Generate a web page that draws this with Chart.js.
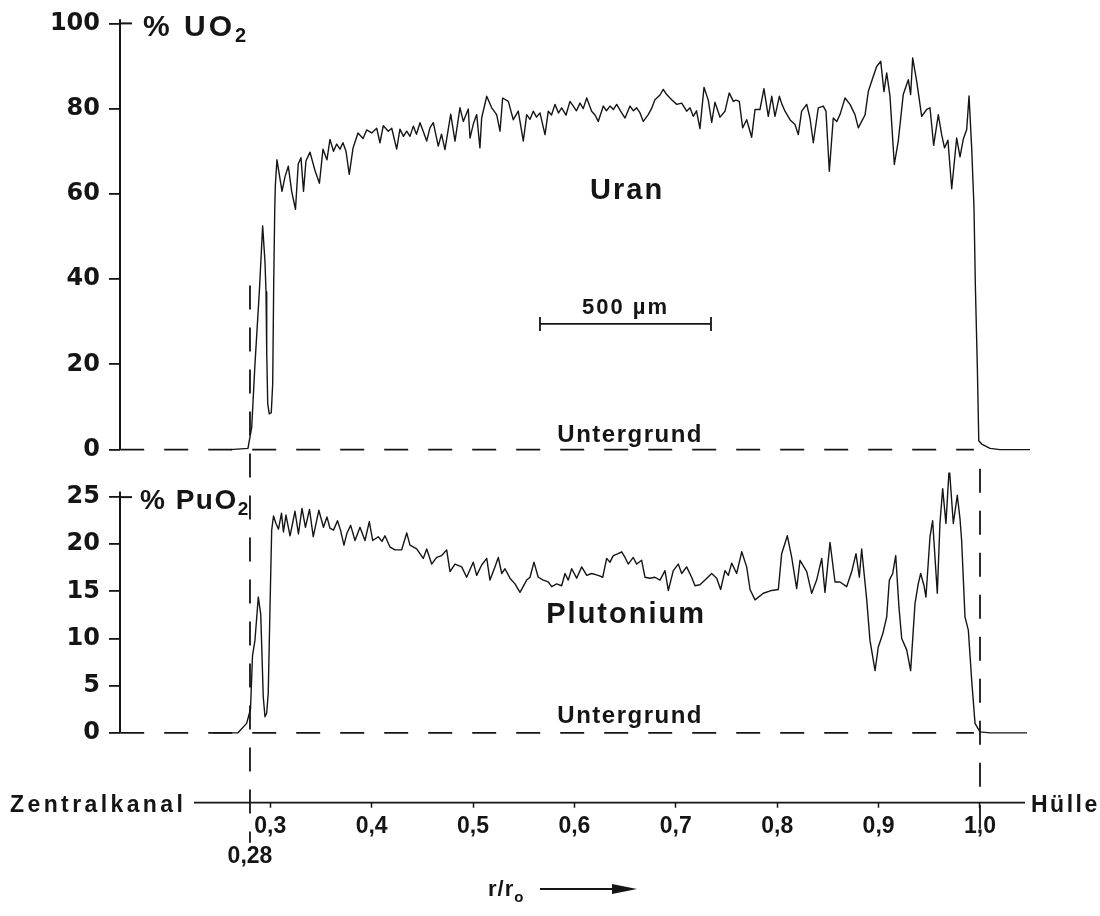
<!DOCTYPE html>
<html>
<head>
<meta charset="utf-8">
<script src="https://cdn.jsdelivr.net/npm/chart.js@4.4.0/dist/chart.umd.min.js"></script>
<style>
  html, body { margin: 0; padding: 0; background: #fff; }
  #wrap { width: 1100px; height: 916px; }
</style>
</head>
<body>
<div id="wrap"><canvas id="profile" width="1100" height="916"></canvas></div>
<script>
// microprobe trace across the pellet (r/r0 -> % oxide)
const uranR = [0.2603, 0.2780, 0.2817, 0.2849, 0.2892, 0.2925, 0.2948, 0.2958, 0.2965, 0.2975,
  0.2990, 0.3010, 0.3024, 0.3034, 0.3044, 0.3050, 0.3066, 0.3116, 0.3145, 0.3178,
  0.3211, 0.3249, 0.3276, 0.3303, 0.3328, 0.3352, 0.3392, 0.3441, 0.3485, 0.3520,
  0.3559, 0.3589, 0.3624, 0.3655, 0.3688, 0.3717, 0.3747, 0.3779, 0.3816, 0.3865,
  0.3915, 0.3951, 0.4000, 0.4050, 0.4082, 0.4115, 0.4164, 0.4198, 0.4247, 0.4279,
  0.4314, 0.4346, 0.4378, 0.4411, 0.4442, 0.4477, 0.4511, 0.4543, 0.4575, 0.4608,
  0.4657, 0.4689, 0.4723, 0.4780, 0.4822, 0.4871, 0.4904, 0.4953, 0.4970, 0.5004,
  0.5036, 0.5068, 0.5085, 0.5135, 0.5184, 0.5233, 0.5266, 0.5292, 0.5348, 0.5397,
  0.5446, 0.5496, 0.5529, 0.5562, 0.5594, 0.5626, 0.5660, 0.5710, 0.5742, 0.5774,
  0.5808, 0.5843, 0.5874, 0.5917, 0.5956, 0.5989, 0.6020, 0.6055, 0.6087, 0.6121,
  0.6170, 0.6203, 0.6235, 0.6285, 0.6316, 0.6351, 0.6385, 0.6417, 0.6454, 0.6499,
  0.6548, 0.6582, 0.6614, 0.6647, 0.6679, 0.6728, 0.6760, 0.6794, 0.6844, 0.6876,
  0.6910, 0.6959, 0.7009, 0.7058, 0.7107, 0.7140, 0.7172, 0.7204, 0.7238, 0.7278,
  0.7320, 0.7354, 0.7386, 0.7436, 0.7485, 0.7527, 0.7567, 0.7593, 0.7626, 0.7659,
  0.7699, 0.7748, 0.7781, 0.7830, 0.7869, 0.7912, 0.7946, 0.7978, 0.8021, 0.8047,
  0.8077, 0.8126, 0.8175, 0.8208, 0.8241, 0.8291, 0.8323, 0.8356, 0.8405, 0.8454,
  0.8481, 0.8514, 0.8553, 0.8587, 0.8619, 0.8669, 0.8718, 0.8767, 0.8800, 0.8833,
  0.8866, 0.8899, 0.8948, 0.8981, 0.9021, 0.9053, 0.9080, 0.9112, 0.9155, 0.9194,
  0.9243, 0.9293, 0.9316, 0.9336, 0.9376, 0.9425, 0.9474, 0.9507, 0.9543, 0.9589,
  0.9622, 0.9650, 0.9684, 0.9721, 0.9770, 0.9803, 0.9835, 0.9869, 0.9892, 0.9918,
  0.9941, 0.9954, 0.9974, 0.9988, 1.0017, 1.0099, 1.0197, 1.0493];
const uranPct = [0, 0.3, 5.2, 20, 37, 52.5, 44, 37, 23, 10.8,
  8.4, 8.7, 15.4, 39, 56, 62, 68, 60.6, 64, 66.5,
  60.6, 56.4, 67, 68.5, 60.6, 67.7, 69.8, 65.5, 62.5, 70.5,
  68, 72.8, 70, 71.7, 70.5, 72, 70, 64.6, 70.7, 74.3,
  73, 75, 74.3, 75.4, 72, 76, 74.7, 75.4, 70.5, 75.2,
  73.5, 74.7, 73.5, 75.9, 74, 76.7, 74.5, 72.4, 75.5, 76.7,
  71.2, 74, 70.4, 78.7, 72.4, 80.2, 77, 79.9, 73.1, 76.5,
  78.6, 70.8, 77.8, 82.9, 80.2, 78.6, 74.7, 82.5, 81.7, 77.4,
  79.4, 72.4, 78.6, 77.5, 79.4, 78, 79, 73.9, 79.4, 78.5,
  81, 79, 80.2, 78.5, 81.7, 80.6, 79.5, 81.3, 80, 82.5,
  79.4, 78.5, 77, 80.6, 79.5, 80.6, 79.8, 81, 79.5, 77.8,
  80.6, 79.5, 80.2, 79, 77, 78.6, 80, 82.1, 83.2, 84.5,
  83.3, 82.1, 81, 81.3, 79.4, 80.2, 78.2, 79.5, 75.3, 85,
  82, 76.8, 81.5, 78, 79.4, 83.7, 81.7, 82, 81.7, 75.5,
  77.4, 73.3, 79.8, 79.8, 84.7, 78.2, 82.9, 78.2, 82.9, 81,
  79.4, 77.4, 76.3, 73.9, 79.4, 81, 77.8, 72, 80.2, 80.6,
  79.4, 65.3, 77.8, 77, 78.6, 82.5, 81, 78.6, 75.5, 77,
  78.5, 84.1, 87.6, 89.9, 91.1, 84, 88.4, 83, 66.9, 72.4,
  83.3, 86.8, 83.3, 91.9, 86.4, 78.2, 79.8, 80.2, 71.4, 78.6,
  73.9, 70.8, 72.6, 61.2, 73.1, 68.7, 72.8, 75.1, 83, 70.8,
  56.7, 38.8, 19.3, 2.1, 1.3, 0.3, 0, 0];

const plutR = [0.2435, 0.2682, 0.2767, 0.2805, 0.2825, 0.2849, 0.2882, 0.2906, 0.2931, 0.2948,
  0.2965, 0.2980, 0.2997, 0.3014, 0.3032, 0.3056, 0.3081, 0.3111, 0.3130, 0.3155,
  0.3195, 0.3244, 0.3278, 0.3313, 0.3347, 0.3387, 0.3424, 0.3479, 0.3525, 0.3559,
  0.3589, 0.3624, 0.3663, 0.3693, 0.3727, 0.3757, 0.3793, 0.3836, 0.3885, 0.3934,
  0.3977, 0.4010, 0.4065, 0.4102, 0.4131, 0.4181, 0.4230, 0.4296, 0.4346, 0.4378,
  0.4444, 0.4509, 0.4543, 0.4592, 0.4641, 0.4691, 0.4740, 0.4773, 0.4822, 0.4888,
  0.4937, 0.5002, 0.5036, 0.5085, 0.5135, 0.5167, 0.5216, 0.5249, 0.5283, 0.5315,
  0.5364, 0.5414, 0.5463, 0.5529, 0.5562, 0.5601, 0.5643, 0.5693, 0.5742, 0.5776,
  0.5825, 0.5874, 0.5907, 0.5939, 0.5973, 0.6022, 0.6072, 0.6121, 0.6170, 0.6235,
  0.6279, 0.6318, 0.6351, 0.6383, 0.6432, 0.6466, 0.6499, 0.6531, 0.6580, 0.6614,
  0.6663, 0.6696, 0.6745, 0.6794, 0.6844, 0.6893, 0.6926, 0.6975, 0.7024, 0.7058,
  0.7107, 0.7156, 0.7189, 0.7238, 0.7288, 0.7354, 0.7403, 0.7442, 0.7485, 0.7518,
  0.7551, 0.7600, 0.7650, 0.7699, 0.7732, 0.7781, 0.7863, 0.7946, 0.8011, 0.8044,
  0.8100, 0.8143, 0.8192, 0.8225, 0.8291, 0.8340, 0.8389, 0.8439, 0.8471, 0.8521,
  0.8570, 0.8619, 0.8685, 0.8735, 0.8777, 0.8810, 0.8833, 0.8883, 0.8915, 0.8965,
  0.8997, 0.9041, 0.9080, 0.9106, 0.9139, 0.9169, 0.9201, 0.9228, 0.9277, 0.9316,
  0.9359, 0.9391, 0.9415, 0.9448, 0.9467, 0.9507, 0.9533, 0.9579, 0.9605, 0.9632,
  0.9664, 0.9697, 0.9737, 0.9776, 0.9803, 0.9819, 0.9852, 0.9885, 0.9918, 0.9951,
  1.0000, 1.0099, 1.0464];
const plutPct = [0, 0, 1.0, 2.5, 8.2, 9.8, 14.4, 12.6, 3.8, 1.7,
  2.1, 4.2, 13, 21.5, 23, 22.2, 21.6, 23.3, 21.3, 23.1,
  20.9, 23.5, 21.1, 23.8, 21.8, 23.7, 20.8, 23.6, 21.8, 22.9,
  21.7, 21.5, 22.5, 21.5, 19.9, 21.2, 22, 20.4, 21.8, 20.4,
  22.4, 20.4, 20.8, 20.3, 20.9, 19.7, 19.4, 19.4, 21.2, 19.9,
  19.5, 18.5, 19.5, 17.9, 18.6, 18.8, 19.4, 17.1, 17.9, 17.6,
  16.5, 18.1, 16.7, 17.8, 18.5, 16.2, 17.6, 18.6, 16.9, 17.4,
  16.4, 15.8, 14.9, 16.2, 16.5, 18.1, 16.5, 16.2, 16, 15.5,
  15.8, 15.6, 16.9, 16.2, 17.4, 16.4, 17.6, 16.7, 16.9, 16.7,
  16.5, 18.5, 18.1, 18.8, 19, 19.2, 18.6, 17.9, 18.6, 17.9,
  18.3, 16.5, 16.4, 16.5, 16.2, 17.2, 15.1, 17.2, 17.9, 16.9,
  17.6, 16.5, 15.6, 15.7, 16.2, 16.9, 16.4, 15.2, 17.2, 16.7,
  18, 16.9, 19.2, 17.6, 15.2, 14.1, 14.8, 15.1, 15.2, 19,
  20.9, 18.6, 15.3, 18.3, 17.1, 14.8, 16.2, 18.5, 14.9, 20.2,
  16, 16, 15.5, 17.1, 19, 16.5, 19.5, 14.1, 9.8, 6.6,
  9.1, 10.5, 12.3, 16.2, 16.9, 18.8, 13.3, 10, 8.8, 6.6,
  13.7, 15.8, 16.9, 15.6, 14.4, 20.8, 22.5, 14.8, 22.2, 25.9,
  22.2, 28.2, 22.2, 25.2, 22.7, 20.4, 12.3, 10.9, 5.6, 1.0,
  0.1, 0, 0];

const uranTicks = [0, 20, 40, 60, 80, 100];
const plutTicks = [0, 5, 10, 15, 20, 25];
const radiusTicks = [0.28, 0.3, 0.4, 0.5, 0.6, 0.7, 0.8, 0.9, 1.0];
const backgroundR = [0.152, 0.994];   // "Untergrund" level, drawn dashed at 0 %
const boundaryR = [0.28, 1.0];        // edge of the central void / cladding
const scaleBarR = [0.566, 0.7347];    // 500 µm

const INK = '#151515';
const FONT = '"Liberation Sans", Arial, sans-serif';

function pairs(xs, ys) {
  return xs.map((x, i) => ({ x: x, y: ys[i] }));
}

function seg(ctx, x1, y1, x2, y2) {
  ctx.beginPath();
  ctx.moveTo(x1, y1);
  ctx.lineTo(x2, y2);
  ctx.stroke();
}

function text(ctx, str, x, y, size, spacing, align) {
  ctx.font = 'bold ' + size + 'px ' + FONT;
  ctx.letterSpacing = spacing + 'px';
  ctx.textAlign = align || 'left';
  ctx.textBaseline = 'alphabetic';
  ctx.fillText(str, x, y);
  return ctx.measureText(str).width;
}

// axis lines, boundary markers, scale bar and annotations
const decorations = {
  id: 'decorations',
  afterDraw(chart) {
    const { ctx, chartArea } = chart;
    const xs = chart.scales.x, yU = chart.scales.yU, yP = chart.scales.yP;
    const ax = chartArea.left, bottom = chartArea.bottom;
    ctx.save();
    ctx.strokeStyle = INK;
    ctx.fillStyle = INK;
    ctx.lineCap = 'butt';

    // vertical axes of both panels with the crossing top tick
    ctx.lineWidth = 2;
    seg(ctx, ax, yU.getPixelForValue(101), ax, yU.getPixelForValue(0));
    seg(ctx, ax, yP.getPixelForValue(25.6), ax, yP.getPixelForValue(0));
    seg(ctx, ax, yU.getPixelForValue(100), ax + 12, yU.getPixelForValue(100));
    seg(ctx, ax, yP.getPixelForValue(25), ax + 12, yP.getPixelForValue(25));

    // r/r0 axis line
    ctx.lineWidth = 1.8;
    seg(ctx, xs.getPixelForValue(0.2248), bottom, xs.getPixelForValue(1.0444), bottom);

    // dashed boundary lines
    ctx.setLineDash([24, 18]);
    seg(ctx, xs.getPixelForValue(boundaryR[0]), yU.getPixelForValue(38.5),
      xs.getPixelForValue(boundaryR[0]), bottom + 40);
    seg(ctx, xs.getPixelForValue(boundaryR[1]), yP.getPixelForValue(28),
      xs.getPixelForValue(boundaryR[1]), bottom + 40);
    ctx.setLineDash([]);

    // 500 µm scale bar
    const by = yU.getPixelForValue(29.5);
    const bx1 = xs.getPixelForValue(scaleBarR[0]), bx2 = xs.getPixelForValue(scaleBarR[1]);
    seg(ctx, bx1, by, bx2, by);
    seg(ctx, bx1, by - 7, bx1, by + 7);
    seg(ctx, bx2, by - 7, bx2, by + 7);
    text(ctx, '500 µm', (bx1 + bx2) / 2, by - 10, 22, 2, 'center');

    // panel annotations
    text(ctx, 'Uran', xs.getPixelForValue(0.652), yU.getPixelForValue(58.8), 29, 2, 'center');
    text(ctx, 'Plutonium', xs.getPixelForValue(0.651), yP.getPixelForValue(11.6), 29, 2, 'center');
    text(ctx, 'Untergrund', xs.getPixelForValue(0.655), yU.getPixelForValue(1.9), 24, 1.5, 'center');
    text(ctx, 'Untergrund', xs.getPixelForValue(0.655), yP.getPixelForValue(1.0), 24, 1.5, 'center');

    // axis titles
    let w = text(ctx, '% UO', 143, 36, 30, 3);
    text(ctx, '2', 143 + w, 42, 20, 0);
    w = text(ctx, '% PuO', 140, 509, 28, 1.5);
    text(ctx, '2', 140 + w, 515, 19, 0);

    text(ctx, 'Zentralkanal', 10, 812, 23, 3.4);
    text(ctx, 'Hülle', 1031, 812, 23, 2.5);

    w = text(ctx, 'r/r', 488, 896, 22, 1);
    text(ctx, 'o', 488 + w, 902, 15, 0);
    ctx.lineWidth = 2;
    seg(ctx, 540, 889, 616, 889);
    ctx.beginPath();
    ctx.moveTo(612, 884);
    ctx.lineTo(637, 889);
    ctx.lineTo(612, 894);
    ctx.closePath();
    ctx.fill();
    ctx.restore();
  }
};

const traceStyle = {
  borderColor: INK,
  borderWidth: 1.4,
  pointRadius: 0,
  tension: 0,
  fill: false,
  borderJoinStyle: 'round'
};

const baseStyle = {
  borderColor: INK,
  borderWidth: 1.8,
  borderDash: [24, 20],
  pointRadius: 0,
  fill: false
};

new Chart(document.getElementById('profile'), {
  type: 'line',
  data: {
    datasets: [
      Object.assign({ label: 'Uran', data: pairs(uranR, uranPct), yAxisID: 'yU' }, traceStyle),
      Object.assign({ label: 'Plutonium', data: pairs(plutR, plutPct), yAxisID: 'yP' }, traceStyle),
      Object.assign({ label: 'Untergrund U', data: pairs(backgroundR, [0, 0]), yAxisID: 'yU' }, baseStyle),
      Object.assign({ label: 'Untergrund Pu', data: pairs(backgroundR, [0, 0]), yAxisID: 'yP' }, baseStyle)
    ]
  },
  options: {
    responsive: false,
    animation: false,
    devicePixelRatio: 1,
    layout: { padding: { top: 22, right: 68, bottom: 0, left: 0 } },
    plugins: {
      legend: { display: false },
      tooltip: { enabled: false }
    },
    scales: {
      x: {
        type: 'linear',
        position: 'bottom',
        min: 0.1518,
        max: 1.0513,
        afterBuildTicks: s => { s.ticks = radiusTicks.map(v => ({ value: v })); },
        afterFit: s => { s.height = 113.3; },
        border: { display: false },
        grid: {
          drawOnChartArea: false,
          tickLength: 5,
          tickWidth: 1.5,
          tickColor: c => (c.tick && c.tick.value === 0.28) ? 'rgba(0,0,0,0)' : INK
        },
        ticks: {
          autoSkip: false,
          maxRotation: 0,
          padding: 4,
          color: INK,
          font: { family: FONT, size: 23, weight: 'bold', lineHeight: 1.3 },
          callback: v => v === 0.28 ? ['', '0,28'] : v.toFixed(1).replace('.', ',')
        }
      },
      yU: {
        type: 'linear',
        position: 'left',
        stack: 'panels',
        stackWeight: 450,
        weight: 2,
        min: -5.39,
        max: 100,
        afterBuildTicks: s => { s.ticks = uranTicks.map(v => ({ value: v })); },
        afterFit: s => { s.width = 120; },
        border: { display: false },
        grid: { drawOnChartArea: false, tickLength: 11, color: INK, lineWidth: 1.8 },
        ticks: {
          padding: 9,
          color: INK,
          font: { family: '"DejaVu Sans", sans-serif', size: 24, weight: 'bold' },
          callback: v => String(v)
        }
      },
      yP: {
        type: 'linear',
        position: 'left',
        stack: 'panels',
        stackWeight: 330.7,
        weight: 1,
        min: -7.41,
        max: 27.6,
        afterBuildTicks: s => { s.ticks = plutTicks.map(v => ({ value: v })); },
        afterFit: s => { s.width = 120; },
        border: { display: false },
        grid: { drawOnChartArea: false, tickLength: 11, color: INK, lineWidth: 1.8 },
        ticks: {
          padding: 9,
          color: INK,
          font: { family: '"DejaVu Sans", sans-serif', size: 24, weight: 'bold' },
          callback: v => String(v)
        }
      }
    }
  },
  plugins: [decorations]
});
</script>
</body>
</html>
